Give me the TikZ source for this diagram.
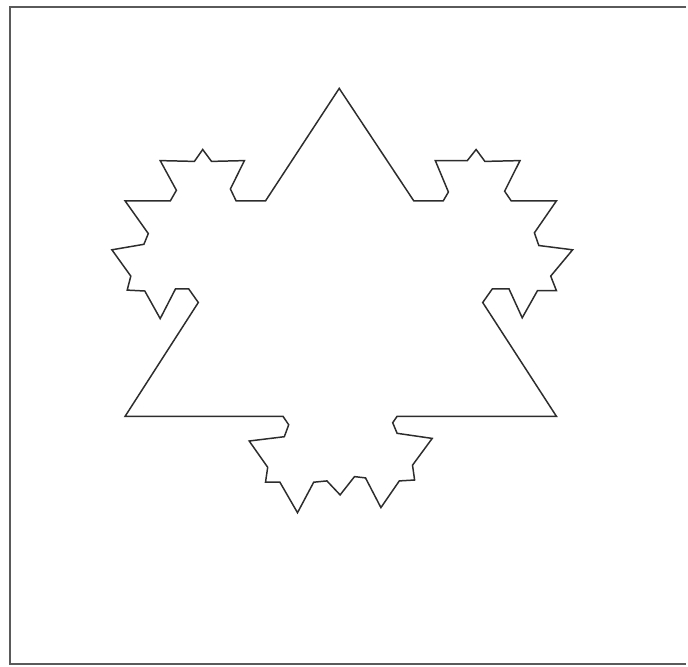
\documentclass[tikz,border=0pt]{standalone}
\usepackage{xcolor}
\definecolor{outline}{RGB}{45, 45, 45}
\definecolor{framegray}{RGB}{90, 90, 90}
\usepackage{tikz}

\begin{document}
\begin{tikzpicture}[
  x=0.02cm, y=-0.02cm,
  % line styles
  frameline/.style = {draw=framegray, line width=1.1pt},
  flake/.style     = {draw=outline, line width=0.85pt, line join=miter},
]

%% Canvas
\useasboundingbox (0,0) rectangle (688,666);
\draw[frameline] (686,7) -- (10,7) -- (10,664) -- (686,664);

%% Outline: top peak and right lobe
\draw[flake]
  (339.2,88.4) -- (413.8,200.9) -- (443.2,200.9) -- (448.4,192.0)
  -- (435.3,160.6) -- (467.3,160.6) -- (476.1,149.5) -- (484.9,161.4)
  -- (520.0,160.6) -- (504.6,191.2) -- (511.2,200.9) -- (556.4,200.9)
  -- (534.4,232.8) -- (538.8,245.5) -- (572.6,249.8) -- (550.7,276.1)
  -- (556.4,290.6) -- (537.5,290.6) -- (522.2,317.8) -- (509.0,288.9)
  -- (492.3,288.9) -- (482.7,302.5)
%% bottom lobe
  -- (556.4,416.3) -- (397.1,416.3) -- (392.7,422.7) -- (397.1,433.3)
  -- (432.2,438.4) -- (412.5,465.2) -- (414.6,480.0) -- (399.3,480.9)
  -- (380.9,507.6) -- (365.5,477.9) -- (354.5,476.6) -- (340.1,494.9)
  -- (326.9,480.9) -- (313.7,482.2) -- (297.5,512.7) -- (279.9,482.2)
  -- (265.5,482.2) -- (267.7,467.3) -- (249.2,441.0) -- (284.3,436.7)
  -- (288.7,424.8) -- (283.0,416.3)
%% left lobe
  -- (125.1,416.3) -- (198.3,302.5) -- (188.7,288.9) -- (175.5,288.9)
  -- (160.2,318.6) -- (144.8,291.0) -- (127.2,290.1) -- (130.8,276.1)
  -- (111.9,249.8) -- (143.9,244.3) -- (148.3,233.6) -- (125.1,200.9)
  -- (170.3,200.9) -- (176.4,190.3) -- (160.2,160.6) -- (194.4,161.4)
  -- (202.7,149.5) -- (211.5,161.4) -- (244.4,160.6) -- (230.4,189.0)
  -- (236.1,200.9) -- (265.5,200.9) -- cycle;

\end{tikzpicture}
\end{document}
